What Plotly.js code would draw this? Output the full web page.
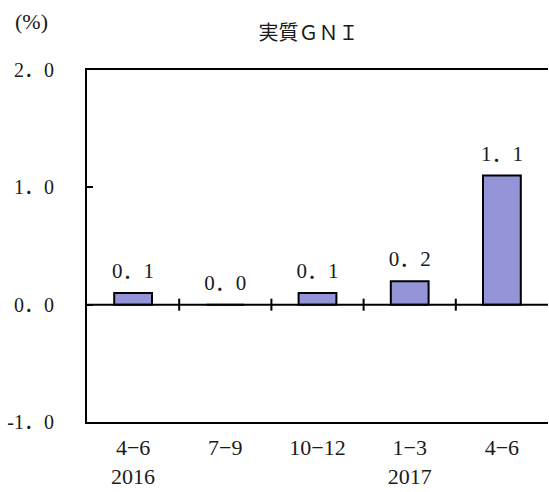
<!DOCTYPE html>
<html><head><meta charset="utf-8">
<script src="https://cdn.plot.ly/plotly-3.0.1.min.js"></script>
<style>body{margin:0;background:#fff}</style>
</head><body><div id="chart" style="width:549px;height:492px"></div>
<script>
const categories = ["4−6<br>2016", "7−9", "10−12", "1−3<br>2017", "4−6"];
const values = [0.1, 0.0, 0.1, 0.2, 1.1];
const valueLabels = ["0．1", "0．0", "0．1", "0．2", "1．1"];
const yTickVals = [-1, 0, 1, 2];
const yTickText = ["-1．0", "0．0", "1．0", "2．0"];
const titleText = "実質ＧＮＩ";
const unitText = "(%)";

const FONT = "Liberation Serif, Noto Sans CJK JP, serif";
const SZ = 21;
const COL = '#1a1a1a';
const idx = categories.map((_, i) => i);
const boundaries = idx.slice(0, -1).map(i => i + 0.5);

const shapes = [{
  type: 'line', xref: 'paper', yref: 'y', x0: 0, x1: 1, y0: 0, y1: 0,
  line: {color: '#000', width: 2}, layer: 'above'
}].concat(boundaries.map(b => ({
  type: 'line', xref: 'x', yref: 'y', ysizemode: 'pixel', yanchor: 0,
  x0: b, x1: b, y0: -6, y1: 6, line: {color: '#000', width: 2}, layer: 'above'
})));

Plotly.newPlot('chart', [{
  type: 'bar', x: idx, y: values, width: 0.41,
  marker: {color: '#9494d8', line: {color: '#000', width: 2}},
  hoverinfo: 'none'
}, {
  type: 'scatter', mode: 'markers+text', x: idx, y: values,
  marker: {size: 14, opacity: 0},
  text: valueLabels, textposition: 'top center', cliponaxis: false,
  textfont: {family: FONT, size: SZ, color: COL},
  hoverinfo: 'none'
}], {
  width: 549, height: 492,
  margin: {l: 87, r: 1, t: 70, b: 70},
  paper_bgcolor: '#fff', plot_bgcolor: '#fff',
  showlegend: false,
  font: {family: FONT, size: SZ, color: COL},
  title: {text: titleText, x: 0.562, xanchor: 'center', y: 0.933, yanchor: 'middle',
          font: {family: FONT, size: 20, color: COL}},
  xaxis: {
    range: [-0.5, 4.5], tickmode: 'array', tickvals: idx, ticktext: categories,
    ticks: '', showgrid: false, zeroline: false,
    showline: true, linecolor: '#000', linewidth: 2, mirror: true,
    tickfont: {family: FONT, size: 22, color: COL}, ticklabelstandoff: 5
  },
  yaxis: {
    range: [-1, 2], tickmode: 'array', tickvals: yTickVals, ticktext: yTickText,
    ticks: 'inside', ticklen: 6, tickwidth: 2, tickcolor: '#000',
    showgrid: false, zeroline: false,
    showline: true, linecolor: '#000', linewidth: 2,
    tickfont: {family: FONT, size: 20, color: COL}, ticklabelstandoff: 27
  },
  shapes: shapes,
  annotations: [{
    text: unitText, xref: 'paper', yref: 'paper', x: -0.16, y: 1.139,
    xanchor: 'left', yanchor: 'middle', showarrow: false,
    font: {family: FONT, size: 22, color: COL}
  }]
}, {staticPlot: true});
</script></body></html>
